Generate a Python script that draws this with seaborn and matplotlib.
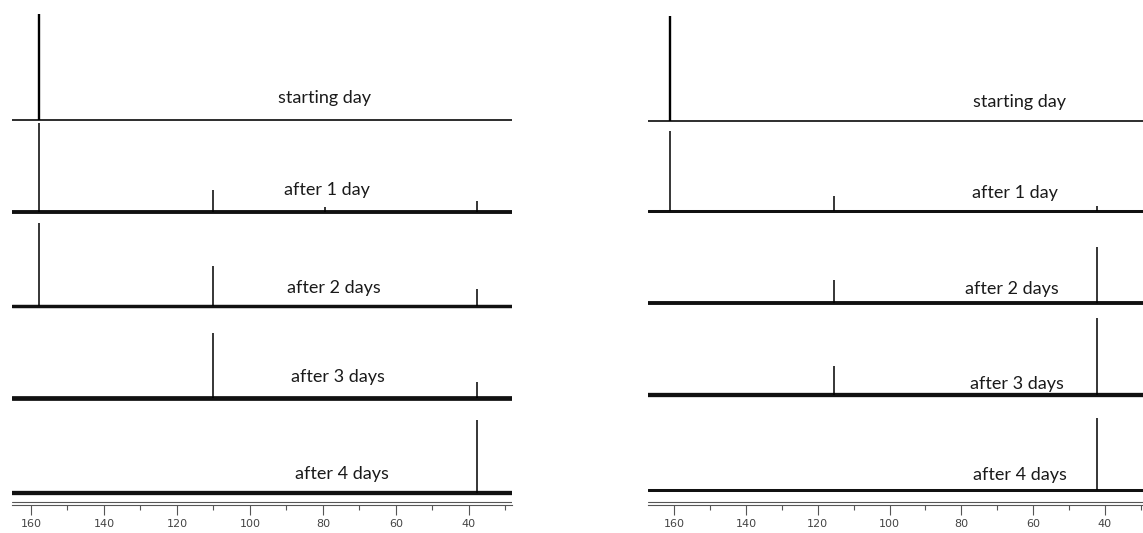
import numpy as np
import pandas as pd
import matplotlib
matplotlib.use("Agg")
import matplotlib.pyplot as plt
from matplotlib.ticker import MultipleLocator
import seaborn as sns

sns.set_style("white")
plt.rcParams["font.family"] = ["Lato", "DejaVu Sans"]

# -------------------------------
# data (ppm positions, peak heights in px-like units)
# -------------------------------
trace_labels = ["starting day", "after 1 day", "after 2 days", "after 3 days", "after 4 days"]

# left panel
left_xlim = (165.2, 28.2)
left_baseline = [385, 293, 199, 107, 12]          # vertical offset of each trace
left_noise = [2.0, 4.5, 4.0, 5.5, 5.0]            # baseline noise band thickness
left_peaks = [
    [(157.7, 106)],
    [(157.7, 89), (110.0, 22), (79.5, 5), (37.9, 11)],
    [(157.7, 83), (110.0, 40), (37.9, 17)],
    [(110.0, 65), (37.9, 16)],
    [(37.9, 73)],
]
left_label_ppm = [79.6, 78.8, 77.1, 76.0, 74.9]
left_label_y = [407, 315, 217, 128, 31]

# right panel
right_xlim = (167.3, 29.4)
right_baseline = [384, 294, 202, 110, 15]
right_noise = [2.0, 3.5, 4.5, 5.0, 3.5]
right_peaks = [
    [(161.2, 105)],
    [(161.2, 80), (115.6, 15), (42.3, 5)],
    [(115.6, 23), (42.3, 56)],
    [(115.6, 29), (42.3, 77)],
    [(42.3, 72)],
]
right_label_ppm = [63.7, 65.1, 65.9, 64.5, 63.7]
right_label_y = [403, 312, 216, 121, 30]


def draw_panel(ax, xlim, baselines, noise, peaks, label_ppm, label_y):
    for i, name in enumerate(trace_labels):
        base = pd.DataFrame({"ppm": [xlim[0], xlim[1]],
                             "intensity": [baselines[i], baselines[i]]})
        sns.lineplot(data=base, x="ppm", y="intensity", color="#111111",
                     linewidth=noise[i] * 0.62, ax=ax, estimator=None)
        pk = pd.DataFrame(peaks[i], columns=["ppm", "height"])
        lw = 1.7 if i == 0 else 1.1
        ax.vlines(pk["ppm"], baselines[i], baselines[i] + pk["height"],
                  color="black", linewidth=lw)
        ax.text(label_ppm[i], label_y[i], name, ha="center", va="center",
                fontsize=13, color="#1a1a1a")
    ax.set_xlim(xlim)
    ax.set_ylim(0, 505)
    ax.axhline(3, color="#555555", linewidth=0.8)
    for s in ["top", "left", "right"]:
        ax.spines[s].set_visible(False)
    ax.spines["bottom"].set_color("#555555")
    ax.spines["bottom"].set_linewidth(0.8)
    ax.set_yticks([])
    ax.set_xlabel("")
    ax.set_ylabel("")
    ax.xaxis.set_major_locator(MultipleLocator(20))
    ax.xaxis.set_minor_locator(MultipleLocator(10))
    ax.tick_params(axis="x", which="major", direction="out", length=7, width=0.8,
                   color="#555555", labelsize=9.5, labelcolor="#444444", pad=3, bottom=True)
    ax.tick_params(axis="x", which="minor", direction="out", length=3.5, width=0.8,
                   color="#555555", bottom=True)
    for lab in ax.get_xticklabels():
        lab.set_family(["DejaVu Sans"])
        lab.set_fontsize(8)


fig = plt.figure(figsize=(11.43, 5.33), dpi=100)
W, H = 1143, 533
ax1 = fig.add_axes([12 / W, (H - 505) / H, 500 / W, 505 / H])
ax2 = fig.add_axes([648 / W, (H - 505) / H, 495 / W, 505 / H])

draw_panel(ax1, left_xlim, left_baseline, left_noise, left_peaks,
           left_label_ppm, left_label_y)
draw_panel(ax2, right_xlim, right_baseline, right_noise, right_peaks,
           right_label_ppm, right_label_y)

fig.savefig("out.png", dpi=100)
